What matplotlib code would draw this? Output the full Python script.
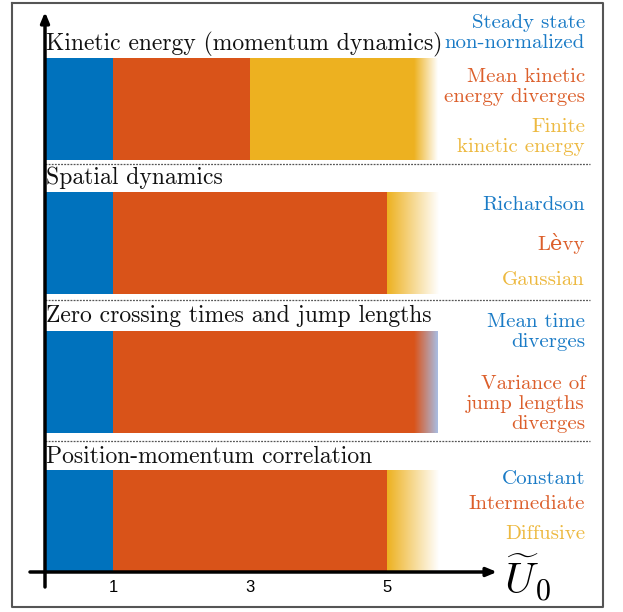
import numpy as np
import matplotlib.pyplot as plt
import matplotlib.colors as mcolors

# Data
titles = ["Kinetic energy (momentum dynamics)", "Spatial dynamics",
          "Zero crossing times and jump lengths", "Position-momentum correlation"]
# solid segments per row: (start, end, colour)
segments = [
    [(0, 1, "#0072BD"), (1, 3, "#D95319"), (3, 5.4, "#EDB120")],
    [(0, 1, "#0072BD"), (1, 5, "#D95319")],
    [(0, 1, "#0072BD"), (1, 5.4, "#D95319")],
    [(0, 1, "#0072BD"), (1, 5, "#D95319")],
]
# fading tail per row: (start, end, colour from, colour to)
fades = [
    (5.4, 5.75, "#EDB120", "#FFFFFF"),
    (5.0, 5.75, "#EDB120", "#FFFFFF"),
    (5.4, 5.75, "#D95319", "#A9BDE3"),
    (5.0, 5.75, "#EDB120", "#FFFFFF"),
]
labels = [
    [("Steady state\nnon-normalized", "#1A7BC6"), ("Mean kinetic\nenergy diverges", "#DC5F2B"),
     ("Finite\nkinetic energy", "#EDB940")],
    [("Richardson", "#1A7BC6"), ("L\u00e8vy", "#DC5F2B"), ("Gaussian", "#EDB940")],
    [("Mean time\ndiverges", "#1A7BC6"), ("Variance of\njump lengths\ndiverges", "#DC5F2B")],
    [("Constant", "#1A7BC6"), ("Intermediate", "#DC5F2B"), ("Diffusive", "#EDB940")],
]
label_y = [[33, 87, 137], [205, 243, 280], [332, 404], [479, 504, 534]]
ticks = [1, 3, 5]

# geometry in figure pixels (y) and U0 units (x)
bar_top = [58, 192, 331, 470]
bar_h = 102
title_y = [44, 178, 316, 457]
sep_y = [164, 300, 441]

serif = ["cmr10", "DejaVu Serif"]
plt.rcParams["mathtext.fontset"] = "cm"

fig = plt.figure(figsize=(6.23, 6.12), dpi=100)
ax = fig.add_axes([0, 0, 1, 1])
px = 68.4
x0 = 45
ax.axis("off")

for i in range(4):
    y0 = bar_top[i]
    for a, b, c in segments[i]:
        ax.fill_between([a, b], y0, y0 + bar_h, color=c, lw=0)
    a, b, c1, c2 = fades[i]
    r1 = np.array(mcolors.to_rgb(c1))
    r2 = np.array(mcolors.to_rgb(c2))
    t = np.linspace(0, 1, 256)[None, :, None]
    img = r1 * (1 - t) + r2 * t
    ax.imshow(img, extent=[a, b, y0 + bar_h, y0], aspect="auto",
              interpolation="bilinear", zorder=1)
    ax.text(0.02, title_y[i], titles[i], family=serif, fontsize=17,
            va="center", ha="left", color="#111111")
    for (txt, col), yy in zip(labels[i], label_y[i]):
        ax.text((585 - x0) / px, yy, txt, family=serif, fontsize=15, color=col,
                ha="right", va="center", linespacing=1.16)

for yy in sep_y:
    ax.plot([0, (590 - x0) / px], [yy, yy], color="#555555", lw=0.9,
            ls=(0, (1.5, 1.0)))

# axes arrows
ax.annotate("", xy=(0, 12), xytext=(0, 587),
            arrowprops=dict(arrowstyle="-|>,head_width=0.25,head_length=0.6",
                            color="black", lw=2.5, shrinkA=0, shrinkB=0))
ax.annotate("", xy=((497 - x0) / px, 572), xytext=((30 - x0) / px, 572),
            arrowprops=dict(arrowstyle="-|>,head_width=0.25,head_length=0.6",
                            color="black", lw=2.5, shrinkA=0, shrinkB=0))
for tk in ticks:
    ax.text(tk, 588, str(tk), family="Liberation Sans", fontsize=12,
            ha="center", va="center")
ax.text((504 - x0) / px, 578, r"$\widetilde{U}_0$", fontsize=31,
        ha="left", va="center")

# frame
ax.plot([(12 - x0) / px, (603 - x0) / px, (603 - x0) / px, (12 - x0) / px,
         (12 - x0) / px],
        [3, 3, 607, 607, 3], color="#555555", lw=1.5)
ax.set_xlim(-x0 / px, (623 - x0) / px)
ax.set_ylim(612, 0)

fig.savefig("out.png", dpi=100)
